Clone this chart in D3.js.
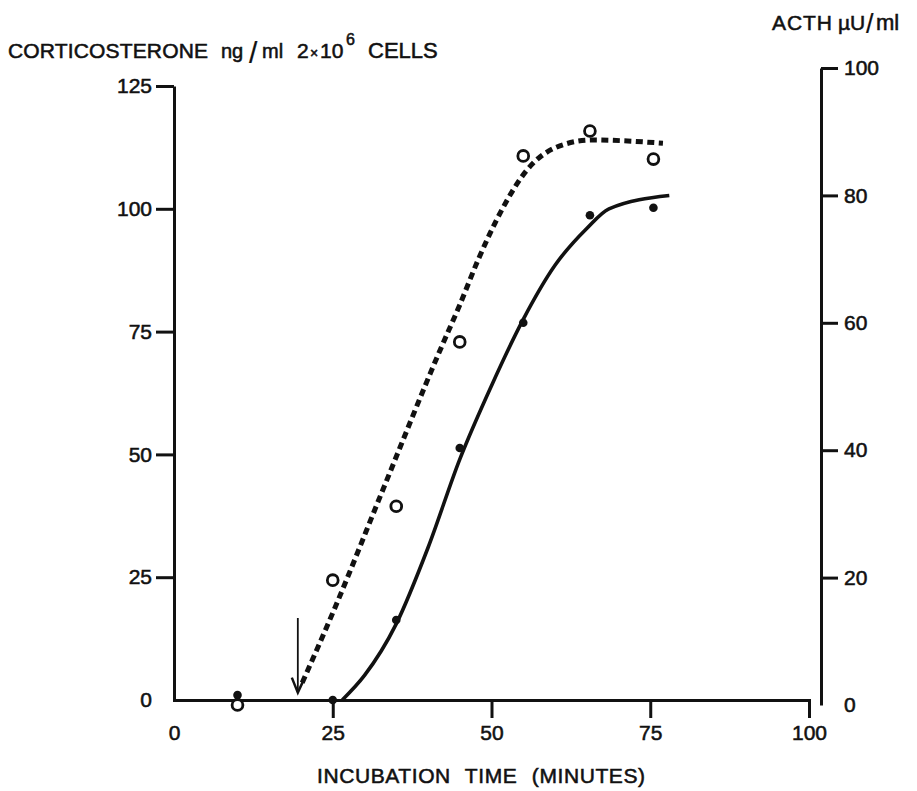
<!DOCTYPE html>
<html>
<head>
<meta charset="utf-8">
<script src="https://cdn.jsdelivr.net/npm/d3@7"></script>
<style>
  html, body { margin: 0; padding: 0; background: #fff; }
  svg { display: block; }
  text { font-family: "Liberation Sans", Arial, Helvetica, sans-serif; fill: #111; stroke: #111; stroke-width: 0.55px; }
</style>
</head>
<body>
<script>
// ---- data ----
const times = [10, 25, 35, 45, 55, 65.5, 75.5];                 // minutes
const corticosterone = [1, 0, 16.3, 51.3, 76.8, 98.7, 100.2];     // ng/ml 2x10^6 cells (left axis, filled points)
const acth = [0, 19.6, 31.2, 57.0, 86.2, 90.1, 85.7];             // µU/ml (right axis, open circles)

// hand-fitted curves
const corticoFitT = [26.5, 30, 35, 40, 45, 50, 55, 60, 65, 68.5, 78];
const corticoFitV = [0, 5, 15.5, 31, 49, 64, 77.5, 88.5, 96, 100, 102.7];
const acthFitT = [20.2, 25.4, 32.9, 41.9, 45, 47.9, 51.5, 55.6, 60.3, 65.8, 77];
const acthFitV = [3.5, 15.4, 33.8, 55.7, 62.8, 69.9, 77.5, 84.0, 87.6, 88.7, 88.2];

// arrow (time of ACTH addition), in left-axis units
const arrowTime = [19.5];
const arrowSpan = [16.7, 1.5];

const xTicks = [0, 25, 50, 75, 100];
const leftTicks = [0, 25, 50, 75, 100, 125];
const rightTicks = [0, 20, 40, 60, 80, 100];

// ---- chart ----
const W = 917, H = 791;
const svg = d3.select("body").append("svg").attr("width", W).attr("height", H);
svg.append("rect").attr("width", W).attr("height", H).attr("fill", "#fff");

const x = d3.scaleLinear().domain([0, 100]).range([174, 809]);
const yL = d3.scaleLinear().domain([0, 125]).range([700, 86]);
const yR = d3.scaleLinear().domain([0, 100]).range([705, 68]);

const FS = 21;

// Left axis
const gL = svg.append("g").attr("transform", `translate(${x(0)},0)`)
  .call(d3.axisLeft(yL).tickValues(leftTicks).tickSize(18).tickSizeOuter(0).tickPadding(4).tickFormat(d3.format("d")));
// Bottom axis
const gB = svg.append("g").attr("transform", `translate(0,${yL(0)})`)
  .call(d3.axisBottom(x).tickValues(xTicks).tickSize(18).tickSizeOuter(0).tickPadding(7).tickFormat(d3.format("d")));
// Right axis
const gR = svg.append("g").attr("transform", `translate(${x(100) + 12},0)`)
  .call(d3.axisRight(yR).tickValues(rightTicks).tickSize(17).tickSizeOuter(0).tickPadding(6).tickFormat(d3.format("d")));

[gL, gB, gR].forEach(g => {
  g.select(".domain").attr("stroke", "#111").attr("stroke-width", 3);
  g.selectAll(".tick line").attr("stroke", "#111").attr("stroke-width", 3)
    .filter(d => d === 0).remove();
  g.selectAll(".tick text").attr("font-size", FS).attr("fill", "#111")
    .attr("font-family", "'Liberation Sans', Arial, sans-serif");
});
gB.select(".domain").attr("stroke-linecap", "square");

// Fitted curves
const lineL = d3.line().x(d => x(d[0])).y(d => yL(d[1])).curve(d3.curveMonotoneX);
const lineR = d3.line().x(d => x(d[0])).y(d => yR(d[1])).curve(d3.curveMonotoneX);

svg.append("path")
  .datum(corticoFitT.map((t, i) => [t, corticoFitV[i]]))
  .attr("d", lineL).attr("fill", "none").attr("stroke", "#111").attr("stroke-width", 3.6);

svg.append("path")
  .datum(acthFitT.map((t, i) => [t, acthFitV[i]]))
  .attr("d", lineR).attr("fill", "none").attr("stroke", "#111")
  .attr("stroke-width", 5).attr("stroke-dasharray", "7,4.5");

// Arrow
arrowTime.forEach(t => {
  const ax = x(t), y1 = yL(arrowSpan[0]), y2 = yL(arrowSpan[1]);
  svg.append("line").attr("x1", ax).attr("x2", ax).attr("y1", y1).attr("y2", y2)
    .attr("stroke", "#111").attr("stroke-width", 1.8);
  svg.append("path")
    .attr("d", `M${ax - 6},${y2 - 15} L${ax},${y2} L${ax + 6},${y2 - 13}`)
    .attr("fill", "none").attr("stroke", "#111").attr("stroke-width", 2.5);
});

// Points
svg.append("g").selectAll("circle.f")
  .data(times.map((t, i) => [t, corticosterone[i]]))
  .join("circle").attr("class", "f")
  .attr("cx", d => x(d[0])).attr("cy", d => yL(d[1])).attr("r", 4.3)
  .attr("fill", "#111");

svg.append("g").selectAll("circle.o")
  .data(times.map((t, i) => [t, acth[i]]))
  .join("circle").attr("class", "o")
  .attr("cx", d => x(d[0])).attr("cy", d => yR(d[1])).attr("r", 5.4)
  .attr("fill", "#fff").attr("stroke", "#111").attr("stroke-width", 2.8);

// Titles
const tL = svg.append("text").attr("y", 58).attr("font-size", 21);
tL.append("tspan").attr("x", 8).attr("textLength", 200).attr("lengthAdjust", "spacing").text("CORTICOSTERONE");
tL.append("tspan").attr("x", 221).attr("font-size", 20).text("ng");
tL.append("tspan").attr("x", 249).attr("font-size", 30).attr("dy", 5)
  .style("stroke-width", "0.2px").text("/");
tL.append("tspan").attr("x", 262).attr("font-size", 20).attr("dy", -5).text("ml");
tL.append("tspan").attr("x", 297).text("2");
tL.append("tspan").attr("x", 310).attr("font-size", 14).text("×");
tL.append("tspan").attr("x", 320).text("10");
tL.append("tspan").attr("x", 346).attr("font-size", 16).attr("dy", -13).text("6");
tL.append("tspan").attr("x", 368).attr("dy", 13).attr("font-size", 22).text("CELLS");

const tR = svg.append("text").attr("y", 30).attr("font-size", 21);
tR.append("tspan").attr("x", 772).attr("textLength", 60).attr("lengthAdjust", "spacing").text("ACTH");
tR.append("tspan").attr("x", 838).text("µU");
tR.append("tspan").attr("x", 866).attr("font-size", 27).attr("dy", 3)
  .style("stroke-width", "0.2px").text("/");
tR.append("tspan").attr("x", 876).attr("dy", -3).attr("font-size", 22).text("ml");

svg.append("text").attr("x", 317).attr("y", 783)
  .attr("font-size", 21).attr("textLength", 328).attr("lengthAdjust", "spacing")
  .attr("word-spacing", 8)
  .text("INCUBATION TIME (MINUTES)");
</script>
</body>
</html>
